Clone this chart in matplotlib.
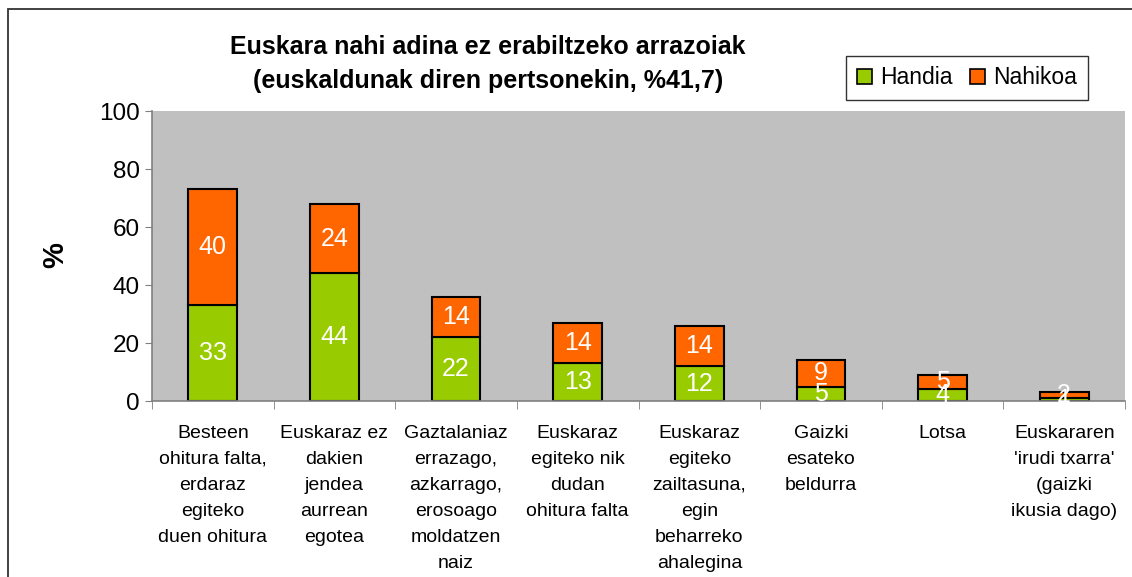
import matplotlib
matplotlib.use('Agg')
import matplotlib.pyplot as plt
import numpy as np
from matplotlib.patches import Rectangle, Patch

categories = ['Besteen\nohitura falta,\nerdaraz\negiteko\nduen ohitura',
              'Euskaraz ez\ndakien\njendea\naurrean\negotea',
              'Gaztalaniaz\nerrazago,\nazkarrago,\nerosoago\nmoldatzen\nnaiz',
              'Euskaraz\negiteko nik\ndudan\nohitura falta',
              'Euskaraz\negiteko\nzailtasuna,\negin\nbeharreko\nahalegina',
              'Gaizki\nesateko\nbeldurra',
              'Lotsa',
              'Euskararen\n\'irudi txarra\'\n(gaizki\nikusia dago)']
handia = [33, 44, 22, 13, 12, 5, 4, 1]
nahikoa = [40, 24, 14, 14, 14, 9, 5, 2]
series_names = ['Handia', 'Nahikoa']
colors = ['#99CC00', '#FF6600']

plt.rcParams['font.family'] = ['Liberation Sans', 'DejaVu Sans']

fig = plt.figure(figsize=(11.32, 5.77), dpi=100)
ax = fig.add_axes([152/1132, 1-401/577, (1125-152)/1132, 290/577])
ax.set_facecolor('#C0C0C0')

x = np.arange(len(categories))
w = 0.4
ax.bar(x, handia, w, color=colors[0], edgecolor='black', linewidth=1.5)
ax.bar(x, nahikoa, w, bottom=handia, color=colors[1], edgecolor='black', linewidth=1.5)

for i in range(len(x)):
    ax.text(x[i], handia[i] / 2, str(handia[i]), ha='center', va='center',
            color='white', fontsize=18)
    ax.text(x[i], handia[i] + nahikoa[i] / 2, str(nahikoa[i]), ha='center', va='center',
            color='white', fontsize=18)

ax.set_xlim(-0.5, len(x) - 0.5)
ax.set_ylim(0, 100)
ax.set_yticks([0, 20, 40, 60, 80, 100])
ax.tick_params(axis='y', labelsize=17.5, length=5, color='#808080', pad=4)
ax.set_xticks(x)
ax.set_xticklabels(categories, fontsize=14, va='top')
for t in ax.get_xticklabels():
    t.set_linespacing(1.7)
ax.set_xticks(np.arange(len(x) + 1) - 0.5, minor=True)
ax.tick_params(axis='x', which='major', length=0, pad=17)
ax.tick_params(axis='x', which='minor', length=6, color='#808080')
for s in ['top', 'right']:
    ax.spines[s].set_visible(False)
for s in ['left', 'bottom']:
    ax.spines[s].set_color('#808080')
    ax.spines[s].set_linewidth(1.2)

fig.text(55/1132, 1-255/577, '%', rotation=90, fontsize=21, fontweight='bold',
         ha='center', va='center')
fig.text(488/1132, 1-64/577,
         'Euskara nahi adina ez erabiltzeko arrazoiak\n(euskaldunak diren pertsonekin, %41,7)',
         ha='center', va='center', fontsize=18, fontweight='bold', linespacing=1.55)

handles = [Patch(facecolor=c, edgecolor='black', linewidth=1.2) for c in colors]
fig.legend(handles, series_names, loc='center', bbox_to_anchor=(967/1132, 1-78/577),
           ncol=2, fontsize=16.5, frameon=True, fancybox=False, edgecolor='black',
           handlelength=0.65, handleheight=0.65, handletextpad=0.35, columnspacing=0.8,
           borderpad=0.45, borderaxespad=0)

fig.add_artist(Rectangle((8/1132, -0.1), 1.2, 1-9/577+0.1, transform=fig.transFigure,
                         fill=False, edgecolor='#333333', linewidth=1.3))

fig.savefig('out.png', dpi=100)
